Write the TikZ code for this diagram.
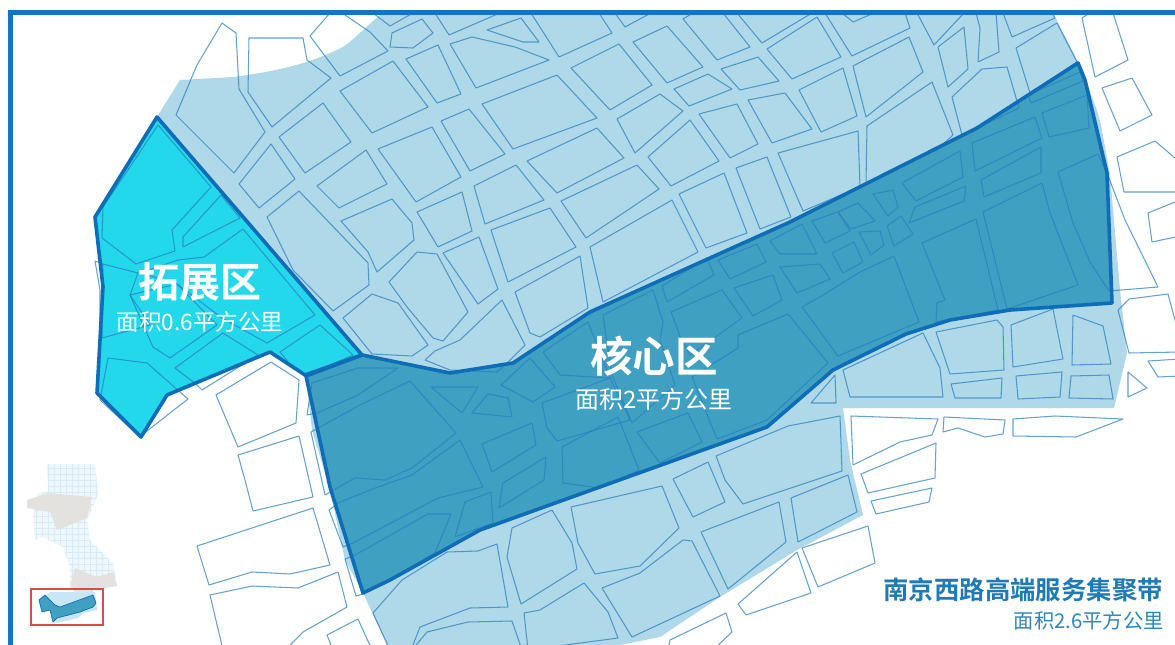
\documentclass[tikz,border=0pt]{standalone}
\usepackage{fontspec}
\setmainfont{Noto Sans CJK SC}
\newfontfamily\cjkbold[BoldFont={Noto Sans CJK SC Bold}]{Noto Sans CJK SC}
\definecolor{lightband}{HTML}{AFD8E8}
\definecolor{darkzone}{HTML}{3FA0C2}
\definecolor{cyanzone}{HTML}{22D8EA}
\definecolor{zoneedge}{HTML}{0F6DB8}
\definecolor{blockedge}{HTML}{2A7FBF}
\definecolor{framecol}{HTML}{1474C4}
\definecolor{titlecol}{HTML}{1F7AB5}
\definecolor{subcol}{HTML}{2F85BF}
\definecolor{minipale}{HTML}{EEF7FC}
\definecolor{minigrid}{HTML}{D6EBF7}
\definecolor{minigrey}{HTML}{E4E2DF}
\definecolor{minired}{HTML}{DC4A4A}
\definecolor{minilight}{HTML}{C8E6F5}
\tikzset{
  blk/.style={draw=blockedge,draw opacity=.72,line width=1.05pt,line join=round},
  zone/.style={draw=zoneedge,line width=3.6pt,line join=round},
  bigl/.style={white,inner sep=0pt},
  subl/.style={white,inner sep=0pt},
}
\newcommand{\bk}[1]{\draw[blk] plot coordinates {#1} -- cycle;}
\begin{document}
\begin{tikzpicture}[x=1pt,y=-1pt]
\useasboundingbox (0,0) rectangle (1175,645);
\clip (0,0) rectangle (1175,645);
\fill[white] (0,0) rectangle (1175,645);
% light band
\fill[lightband] (157,117) -- (180,80) -- (233,77) .. controls (270,72) and (305,66) .. (343,47) .. controls (355,39) and (367,25) .. (383,13)
 -- (1053,13) -- (1078,62) -- (1097,110) -- (1101,125) -- (1110,175) -- (1120,290) -- (1127,353) -- (1114,408) -- (843,408) -- (850,460) -- (863,515)
 -- (797,550) -- (720,597) -- (660,637) -- (620,645) -- (387,645) -- (363,593) -- (345,560) -- (330,490) -- (312,430) -- (306,377) -- cycle;
% zones
\path[fill=darkzone] (306,376) -- (362,355) -- (450,373) -- (513,363) -- (590,312) -- (790,222) -- (977,128) -- (1078,63) -- (1085,80) -- (1107,173) -- (1112,303) -- (1010,310) -- (950,320) -- (906,334) -- (833,370) -- (767,427) -- (480,530) -- (390,580) -- (363,593) -- (330,487) -- cycle;
\path[fill=cyanzone] (157,117) -- (95,217) -- (103,287) -- (97,393) -- (141,437) -- (167,395) -- (270,352) -- (305,375) -- (362,355) -- cycle;
% blocks: upper left
\bk{(222,23)(236,33)(239,89)(265,132)(234,173)(176,115)(197,65)}
\bk{(249,38)(303,38)(307,60)(331,78)(272,127)(248,92)}
\bk{(330,13)(310,36)(340,76)(388,51)(370,32)(342,13)}
\bk{(373,13)(390,26)(413,13)}
\bk{(392,33)(422,19)(433,33)(413,48)(390,47)}
\bk{(323,103)(351,142)(305,173)(279,137)}
\bk{(393,61)(428,107)(372,133)(340,91)}
\bk{(271,144)(295,179)(259,208)(239,184)}
\bk{(366,150)(387,184)(339,208)(317,186)}
\bk{(299,191)(368,263)(369,285)(333,311)(293,270)(267,217)}
\bk{(341,221)(392,199)(412,223)(414,240)(377,272)(368,252)}
\bk{(378,149)(432,127)(461,177)(416,202)}
\bk{(417,212)(462,192)(472,231)(438,247)}
\bk{(443,253)(479,237)(498,289)(478,304)}
\bk{(389,282)(417,252)(437,254)(468,312)(443,341)(433,338)(407,307)}
\bk{(343,318)(372,294)(398,303)(428,345)(412,356)(372,354)}
\bk{(425,360)(435,351)(460,340)(502,300)(525,345)(507,363)(497,372)(450,370)}
% blocks: upper middle
\bk{(435,13)(449,35)(500,13)}
\bk{(450,44)(472,37)(515,47)(549,60)(476,88)}
\bk{(487,30)(521,18)(539,42)(523,42)}
\bk{(406,59)(438,45)(461,94)(437,103)}
\bk{(531,13)(599,13)(612,33)(559,57)}
\bk{(615,13)(625,27)(651,13)}
\bk{(571,68)(619,44)(652,85)(610,110)}
\bk{(633,42)(667,26)(703,67)(667,83)}
\bk{(683,19)(693,13)(723,13)(750,47)(717,60)}
\bk{(767,49)(817,17)(841,57)(792,79)}
\bk{(737,13)(762,43)(812,13)}
\bk{(482,104)(557,75)(597,118)(513,149)}
\bk{(441,121)(469,109)(505,154)(470,171)}
\bk{(527,161)(597,128)(624,158)(557,193)}
\bk{(474,186)(516,165)(544,200)(485,224)}
\bk{(491,230)(550,208)(576,247)(508,282)}
\bk{(561,201)(637,165)(659,189)(586,238)}
\bk{(617,119)(660,94)(683,111)(635,153)}
\bk{(648,157)(690,120)(719,161)(671,186)}
\bk{(679,194)(724,173)(747,233)(706,248)}
\bk{(736,168)(767,157)(791,217)(760,229)}
\bk{(699,114)(737,104)(758,144)(730,158)}
\bk{(674,89)(708,74)(732,89)(689,106)}
\bk{(721,69)(758,57)(779,81)(740,90)}
\bk{(748,100)(785,93)(812,129)(772,143)}
\bk{(778,153)(858,131)(860,187)(803,211)}
\bk{(515,292)(580,256)(588,308)(540,337)(530,333)}
\bk{(590,247)(672,200)(698,252)(603,302)}
% blocks: upper right
\bk{(799,90)(843,68)(857,116)(821,132)}
\bk{(853,66)(909,37)(923,72)(866,117)}
\bk{(825,13)(852,56)(910,28)(905,13)}
\bk{(842,13)(853,22)(874,13)}
\bk{(917,13)(934,45)(964,13)}
\bk{(938,47)(964,27)(968,69)(948,87)}
\bk{(976,13)(980,28)(978,62)(999,52)(996,13)}
\bk{(1003,13)(1012,37)(1055,18)(1052,13)}
\bk{(1016,48)(1057,23)(1077,62)(1030,93)}
\bk{(866,183)(867,126)(932,82)(953,135)(940,147)}
\bk{(962,135)(952,97)(982,69)(1007,67)(1019,108)(977,128)}
% blocks: core zone, right
\bk{(902,183)(960,151)(963,177)(916,201)}
\bk{(972,143)(1035,117)(1042,138)(975,171)}
\bk{(1028,95)(1031,103)(1083,81)(1080,72)}
\bk{(1042,113)(1087,95)(1089,128)(1049,137)}
\bk{(981,180)(1041,147)(1041,173)(984,197)}
\bk{(1058,172)(1098,154)(1107,173)(1125,220)(1158,287)(1109,291)(1090,262)(1073,223)}
\bk{(983,212)(1042,183)(1050,213)(1078,285)(1007,309)}
\bk{(922,243)(976,219)(998,310)(936,322)(937,303)(945,300)}
\bk{(802,307)(823,295)(860,272)(894,256)(919,322)(838,356)}
\bk{(812,221)(838,212)(850,231)(825,243)}
\bk{(838,212)(858,203)(875,221)(851,229)}
\bk{(873,194)(893,190)(898,207)(888,216)}
\bk{(887,226)(901,216)(913,234)(894,246)}
\bk{(909,223)(915,207)(966,186)(964,201)}
\bk{(859,232)(880,231)(884,245)(871,255)}
\bk{(832,253)(854,242)(863,262)(843,273)}
\bk{(780,267)(820,264)(830,279)(797,293)}
\bk{(770,241)(802,224)(817,254)(780,254)}
\bk{(718,260)(757,244)(766,262)(730,279)}
\bk{(734,288)(773,275)(782,300)(753,316)}
\bk{(662,286)(707,258)(714,275)(667,302)}
\bk{(692,377)(738,348)(738,335)(788,314)(828,363)(767,420)(717,439)}
\bk{(671,312)(722,290)(742,318)(690,355)(680,336)}
\bk{(603,315)(653,290)(663,322)(660,340)(675,385)(632,423)(612,375)}
\bk{(637,432)(688,413)(702,442)(660,463)(648,447)}
% blocks: core zone, left
\bk{(543,352)(588,322)(610,378)(560,375)}
\bk{(501,385)(530,358)(555,387)(533,402)}
\bk{(542,403)(610,378)(630,420)(557,441)(547,428)}
\bk{(562,447)(618,417)(639,470)(600,488)(563,483)}
\bk{(482,444)(532,423)(536,445)(492,472)}
\bk{(503,483)(546,457)(544,480)(499,508)}
\bk{(465,502)(491,492)(493,523)(455,537)}
\bk{(431,387)(478,387)(462,413)}
\bk{(472,413)(488,394)(508,398)(512,417)}
\bk{(307,415)(312,383)(358,368)(398,368)(358,395)(317,413)}
\bk{(311,432)(360,405)(410,381)(456,433)(412,468)(385,480)(355,478)(325,495)}
\bk{(329,510)(340,502)(378,487)(412,475)(460,440)(483,487)(438,498)(353,543)(343,547)}
\bk{(345,559)(355,555)(428,514)(451,514)(435,553)(363,594)(356,596)}
% blocks: expansion zone
\bk{(103,207)(102,238)(136,264)(175,251)(172,230)(211,187)(158,125)}
\bk{(221,195)(183,237)(183,247)(240,218)}
\bk{(243,229)(315,315)(267,343)(222,318)(177,284)(140,273)(178,260)(204,257)}
\bk{(103,264)(138,273)(130,295)(150,325)(102,338)}
\bk{(130,295)(177,284)(217,325)(170,358)(153,347)}
\draw[blk] (103,264) -- (95,261) -- (100,290) -- (100,332);
\bk{(175,368)(223,333)(258,355)(202,390)(197,385)}
\bk{(280,352)(320,325)(353,355)(307,375)(293,368)}
\bk{(108,358)(147,363)(188,399)(147,431)(140,437)(100,400)}
% blocks: white, left
\bk{(216,395)(271,362)(299,380)(296,423)(238,447)}
\bk{(238,455)(299,436)(313,497)(253,511)(245,480)}
\bk{(197,546)(313,508)(330,565)(290,574)(252,572)(209,585)}
\bk{(210,595)(252,586)(298,588)(338,572)(347,607)(303,632)(285,650)(223,650)}
\bk{(327,635)(358,619)(372,650)(333,650)}
% blocks: white, right
\bk{(1082,18)(1090,13)(1113,13)(1128,60)(1095,77)}
\bk{(1102,88)(1132,78)(1152,115)(1120,131)}
\bk{(1117,157)(1155,141)(1175,158)(1180,165)(1180,192)(1124,192)}
\bk{(1148,213)(1180,200)(1180,236)(1152,242)}
\bk{(1118,310)(1129,299)(1168,294)(1175,320)(1180,352)(1129,353)}
\bk{(1148,361)(1180,359)(1180,376)(1158,377)}
\bk{(1128,372)(1147,388)(1128,397)}
% blocks: south-east
\bk{(843,370)(923,333)(940,368)(943,397)(850,397)}
\bk{(936,332)(997,320)(1003,327)(1004,370)(950,374)}
\bk{(951,384)(1002,378)(1001,398)(955,398)}
\bk{(1011,325)(1053,309)(1063,359)(1013,367)}
\bk{(1073,315)(1103,326)(1111,364)(1072,365)}
\bk{(1016,376)(1062,372)(1060,397)(1018,399)}
\bk{(1071,376)(1109,375)(1113,399)(1069,398)}
\draw[blk] (811,403) -- (835,375) -- (836,403) -- cycle;
\bk{(851,416)(938,419)(932,435)(900,442)(853,465)}
\bk{(944,417)(1005,420)(1003,434)(985,437)(958,428)(943,432)}
\bk{(1013,419)(1055,416)(1123,419)(1076,437)(1013,436)}
\bk{(861,474)(936,443)(935,478)(868,493)}
\bk{(871,501)(932,488)(929,502)(876,514)}
\bk{(791,498)(848,475)(857,512)(798,542)}
\bk{(802,548)(868,526)(875,563)(818,587)}
\bk{(738,604)(797,552)(811,593)(746,615)}
\bk{(670,640)(726,613)(732,632)(713,650)(668,650)}
% blocks: south band
\bk{(716,456)(788,426)(840,416)(842,471)(743,504)(725,480)}
\bk{(673,479)(708,462)(725,502)(693,517)}
\bk{(571,507)(662,486)(679,528)(640,566)(595,574)(578,543)}
\bk{(512,528)(552,510)(572,543)(577,569)(521,604)(507,557)}
\bk{(701,532)(779,502)(786,542)(728,589)}
\bk{(602,588)(640,573)(683,540)(692,541)(720,596)(632,637)}
\bk{(524,613)(540,610)(584,583)(608,612)(618,638)(528,650)}
\bk{(373,613)(402,580)(447,552)(478,551)(497,544)(508,607)(470,608)(420,627)(411,650)(390,650)}
\bk{(412,650)(427,632)(468,622)(512,621)(522,650)}
% zone outlines
\draw[zone] (306,376) -- (362,355) -- (450,373) -- (513,363) -- (590,312) -- (790,222) -- (977,128) -- (1078,63) -- (1085,80) -- (1107,173) -- (1112,303) -- (1010,310) -- (950,320) -- (906,334) -- (833,370) -- (767,427) -- (480,530) -- (390,580) -- (363,593) -- (330,487) -- cycle;
\draw[zone] (157,117) -- (95,217) -- (103,287) -- (97,393) -- (141,437) -- (167,395) -- (270,352) -- (305,375) -- (362,355) -- cycle;
% frame
\draw[draw=framecol,line width=4.4pt] (10.5,650) -- (10.5,12.5) -- (1180,12.5);
% overview map
\path[fill=minipale] (47,464) -- (95,464) -- (98,495) -- (87,520) -- (90,540) -- (113,563) -- (117,585) -- (97,588) -- (70,587) -- (70,567) -- (63,547) -- (43,537) -- (35,540) -- (33,513) -- (38,493) -- (48,492) -- cycle;
\begin{scope}
\clip (47,464) -- (95,464) -- (98,495) -- (87,520) -- (90,540) -- (113,563) -- (117,585) -- (97,588) -- (70,587) -- (70,567) -- (63,547) -- (43,537) -- (35,540) -- (33,513) -- (38,493) -- (48,492) -- cycle;
\draw[minigrid,line width=.45pt,step=6pt] (25,460) grid (120,590);
\end{scope}
\fill[minigrey] (27,500) -- (48,493) -- (92,497) -- (87,518) -- (57,530) -- (50,512) -- (27,508) -- cycle;
\fill[minigrey] (75,568) -- (97,577) -- (113,572) -- (117,586) -- (93,590) -- (92,595) -- (78,596) -- (72,588) -- (70,587) -- cycle;
\fill[minilight] (40,600) -- (50,592) -- (95,592) -- (97,610) -- (83,613) -- (78,618) -- (57,623) -- (53,620) -- (50,610) -- cycle;
\draw[fill=darkzone,draw=zoneedge,line width=.7pt,line join=round] (39,600) -- (45,595) -- (55,605) -- (60,607) -- (93,595) -- (96,603) -- (93,607) -- (80,612) -- (57,618) -- (53,622) -- (50,610) -- (42,612) -- cycle;
\draw[draw=minired,line width=1.3pt] (31,589) rectangle (103,625);
% labels
\node[bigl,font=\fontsize{41}{41}\selectfont] (expT) at (200,282) {\cjkbold\bfseries 拓展区};
\node[subl,font=\fontsize{22.6}{23}\selectfont] (expS) at (200,322) {面积0.6平方公里};
\node[bigl,font=\fontsize{42.5}{43}\selectfont] (coreT) at (654,356) {\cjkbold\bfseries 核心区};
\node[subl,font=\fontsize{24}{24}\selectfont] (coreS) at (654,399) {面积2平方公里};
\node[inner sep=0pt,anchor=east,text=titlecol,font=\fontsize{25.4}{26}\selectfont] (bandT) at (1163,590) {\cjkbold\bfseries 南京西路高端服务集聚带};
\node[inner sep=0pt,anchor=east,text=subcol,font=\fontsize{20.3}{21}\selectfont] (bandS) at (1164,621) {面积2.6平方公里};
\end{tikzpicture}
\end{document}
